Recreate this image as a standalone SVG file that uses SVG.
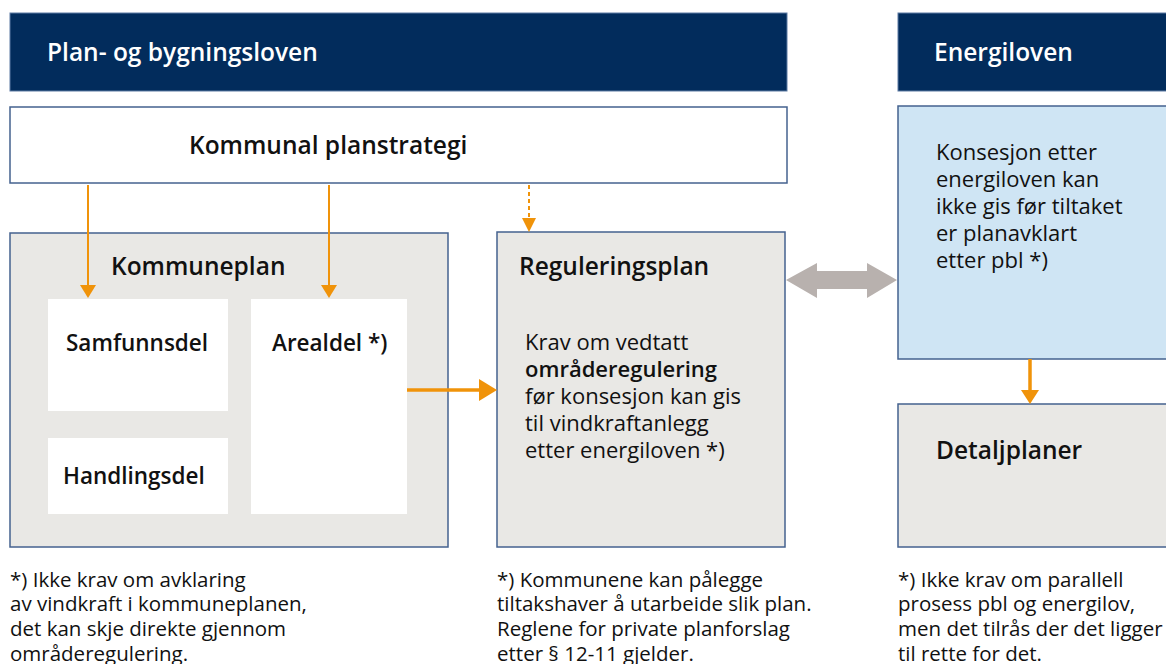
<svg xmlns="http://www.w3.org/2000/svg" width="1166" height="664" viewBox="0 0 1166 664">
<style>
.hdr{fill:#022c5c;stroke:#5d7aa3;stroke-width:1}
.box{stroke:#44628f;stroke-width:1.5}
.grey{fill:#e9e8e5}
.white{fill:#ffffff}
.blue{fill:#cfe5f4}
.inner{fill:#ffffff}
text{font-family:"Open Sans","Noto Sans","Liberation Sans",sans-serif;fill:#111}
.h1{font-size:24.5px;font-weight:600;fill:#ffffff}
.t{font-size:24.5px;font-weight:600}
.s{font-size:22.5px;font-weight:600}
.b{font-size:22px;font-weight:400}
.bb{font-weight:600}
.fn{font-size:20.5px;font-weight:400}
.ol{stroke:#f0930a;stroke-width:2;fill:none}
.ot{stroke:#f0930a;stroke-width:3.5;fill:none}
.oh{fill:#f0930a}
</style>
<g id="hdr-pbl"><rect class="hdr" x="10" y="13" width="777" height="78"/><text class="h1" x="47" y="61">Plan- og bygningsloven</text></g>
<g id="hdr-energi"><rect class="hdr" x="898" y="13" width="270" height="78"/><text class="h1" x="934" y="61">Energiloven</text></g>
<g id="planstrategi"><rect class="box white" x="10" y="107" width="777" height="76"/><text class="t" x="189" y="154">Kommunal planstrategi</text></g>
<g id="kommuneplan"><rect class="box grey" x="10" y="233" width="438" height="314"/><text class="t" x="111" y="275">Kommuneplan</text></g>
<g id="samfunnsdel"><rect class="inner" x="48" y="299" width="180" height="112"/><text class="s" x="66" y="351">Samfunnsdel</text></g>
<g id="handlingsdel"><rect class="inner" x="48" y="438" width="180" height="76"/><text class="s" x="63" y="484">Handlingsdel</text></g>
<g id="arealdel"><rect class="inner" x="251" y="299" width="156" height="215"/><text class="s" x="272" y="351">Arealdel *)</text></g>
<g id="reguleringsplan"><rect class="box grey" x="497" y="232" width="288" height="315"/><text class="t" x="519" y="275">Reguleringsplan</text>
<text class="b" x="525"><tspan x="525" y="350">Krav om vedtatt</tspan><tspan x="525" y="377" class="bb">områderegulering</tspan><tspan x="525" y="404">før konsesjon kan gis</tspan><tspan x="525" y="431">til vindkraftanlegg</tspan><tspan x="525" y="458">etter energiloven *)</tspan></text></g>
<g id="konsesjon"><rect class="box blue" x="898" y="106" width="270" height="253"/>
<text class="b" x="936"><tspan x="936" y="160">Konsesjon etter</tspan><tspan x="936" y="187">energiloven kan</tspan><tspan x="936" y="214">ikke gis før tiltaket</tspan><tspan x="936" y="241">er planavklart</tspan><tspan x="936" y="268">etter pbl *)</tspan></text></g>
<g id="detaljplaner"><rect class="box grey" x="898" y="404" width="270" height="143"/><text class="t" x="936" y="459">Detaljplaner</text></g>
<g id="connectors">
<line class="ol" x1="88" y1="185" x2="88" y2="286"/><polygon class="oh" points="80,285 96,285 88,298"/>
<line class="ol" x1="329" y1="185" x2="329" y2="286"/><polygon class="oh" points="321,285 337,285 329,298"/>
<line class="ol" x1="529" y1="185" x2="529" y2="219" stroke-dasharray="4,3"/><polygon class="oh" points="522,218 536,218 529,232"/>
<line class="ot" x1="407" y1="390" x2="480" y2="390"/><polygon class="oh" points="479,379 479,401 497,390"/>
<line class="ot" x1="1030" y1="359" x2="1030" y2="392"/><polygon class="oh" points="1021,390 1039,390 1030,404"/>
<polygon fill="#b8b1ae" points="786,280 817,263 817,271 867,271 867,263 897,280 867,298 867,289 817,289 817,298"/>
</g>
<g id="notes">
<text class="fn"><tspan x="10" y="587">*) Ikke krav om avklaring</tspan><tspan x="10" y="611">av vindkraft i kommuneplanen,</tspan><tspan x="10" y="636">det kan skje direkte gjennom</tspan><tspan x="10" y="661">områderegulering.</tspan></text>
<text class="fn"><tspan x="497" y="587">*) Kommunene kan pålegge</tspan><tspan x="497" y="611">tiltakshaver å utarbeide slik plan.</tspan><tspan x="497" y="636">Reglene for private planforslag</tspan><tspan x="497" y="661">etter § 12-11 gjelder.</tspan></text>
<text class="fn"><tspan x="898" y="587">*) Ikke krav om parallell</tspan><tspan x="898" y="611">prosess pbl og energilov,</tspan><tspan x="898" y="636">men det tilrås der det ligger</tspan><tspan x="898" y="661">til rette for det.</tspan></text>
</g>
</svg>
